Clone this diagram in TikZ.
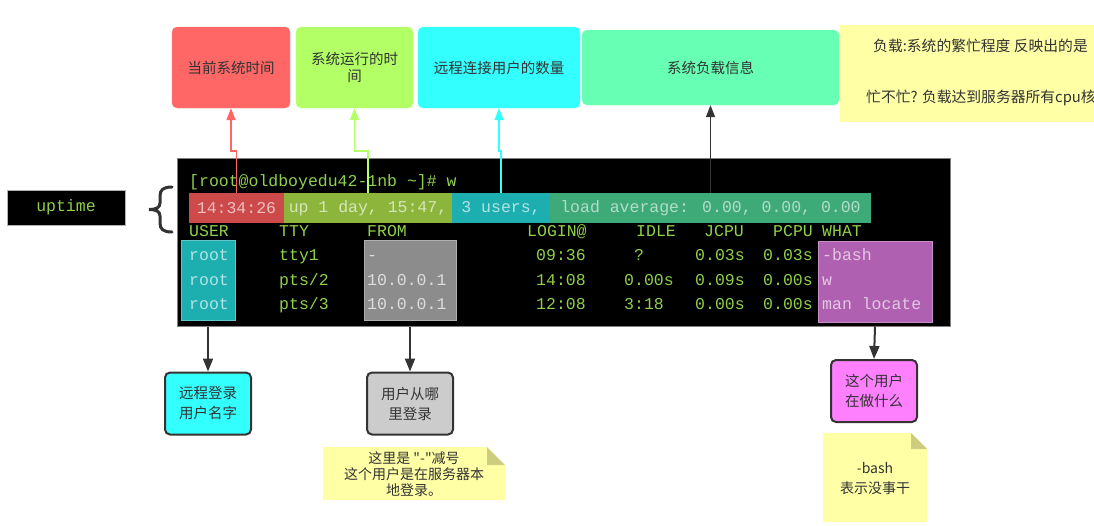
\documentclass[tikz,border=0pt]{standalone}
\usepackage{fontspec}
\setmainfont{Noto Sans CJK SC}[Ligatures=TeXOff]
\newfontfamily\termfont{Liberation Mono}
\usetikzlibrary{arrows.meta,calc}
\definecolor{tbred}{HTML}{FF6666}
\definecolor{tbgreen}{HTML}{B3FF66}
\definecolor{tbcyan}{HTML}{33FFFF}
\definecolor{tbmint}{HTML}{66FFB3}
\definecolor{noteyel}{HTML}{FFFFA6}
\definecolor{notefold}{HTML}{CDCD80}
\definecolor{hlred}{HTML}{CC4A4A}
\definecolor{hlgreen}{HTML}{8DB53C}
\definecolor{hlcyan}{HTML}{1DAFB0}
\definecolor{hlload}{HTML}{3EAA78}
\definecolor{termgreen}{HTML}{8ED04A}
\definecolor{darkline}{HTML}{333333}
\definecolor{boxpurple}{HTML}{FF80FF}
\definecolor{whatpurple}{HTML}{B060B0}
\definecolor{fromgray}{HTML}{8C8C8C}
\begin{document}
\begin{tikzpicture}[x=1pt,y=-1pt,
  topbox/.style={rounded corners=5pt,inner sep=2pt,align=center,text=darkline,
    font=\fontsize{14.5}{17}\selectfont},
  botbox/.style={rounded corners=5pt,draw=darkline,line width=2pt,align=center,
    minimum width=86pt,minimum height=62pt,inner sep=2pt,text=darkline,
    font=\fontsize{14.5}{20}\selectfont},
  hl/.style={inner sep=0pt,minimum height=30pt,font=\termfont\fontsize{16.5}{18}\selectfont},
  tt/.style={anchor=base west,inner sep=0pt,text=termgreen,font=\termfont\fontsize{16.5}{18}\selectfont},
  notetext/.style={align=center,text=darkline,inner sep=0pt,font=\fontsize{14}{16}\selectfont},
  uparrow/.style={line width=1.6pt,-{Triangle[length=12pt,width=9pt]}},
  downarrow/.style={line width=2pt,draw=darkline,-{Triangle[length=13pt,width=10pt]}},
]
\useasboundingbox (0,0) rectangle (1094,525);
\fill[white] (0,0) rectangle (1094,525);

% top boxes
\node[topbox,fill=tbred,draw=tbred!80!white,minimum width=118pt,minimum height=81pt] (tbred) at (231,67.5) {当前系统时间};
\node[topbox,fill=tbgreen,draw=tbgreen!80!white,minimum width=117pt,minimum height=81pt] (tbgreen) at (354.5,67.5) {系统运行的时\\间};
\node[topbox,fill=tbcyan,draw=tbcyan!80!white,minimum width=162pt,minimum height=81pt] (tbcyan) at (499,67.5) {远程连接用户的数量};
\node[topbox,fill=tbmint,draw=tbmint!80!white,minimum width=257pt,minimum height=75pt] (tbmint) at (710.5,67.5) {系统负载信息};

% top-right note (cut at the page edge)
\begin{scope}
\clip (0,0) rectangle (1094,525);
\fill[noteyel] (840,25) rectangle (1100,122);
\node[notetext,anchor=west,font=\fontsize{14.8}{16}\selectfont] (loadnote1) at (873,46) {负载:系统的繁忙程度 反映出的是};
\node[notetext,anchor=west,font=\fontsize{14.8}{16}\selectfont] (loadnote2) at (866,98) {忙不忙? 负载达到服务器所有cpu核};
\end{scope}

% terminal
\node[fill=black,draw=gray,line width=1pt,minimum width=773pt,minimum height=168pt,inner sep=0pt] (term) at (563.5,242) {};

% highlight row
\node[hl,fill=hlred,minimum width=95pt,text=hlred!35!white] (hlred) at (236.5,208) {14:34:26};
\node[hl,fill=hlgreen,minimum width=168pt,text=hlgreen!35!white] (hlgreen) at (368,208) {up 1 day, 15:47,};
\node[hl,fill=hlcyan,minimum width=98pt,text=hlcyan!35!white] (hlcyan) at (501,208) {3 users,};
\node[hl,fill=hlload,minimum width=321pt,text=hlload!40!white] (hlload) at (710.5,208) {load average: 0.00, 0.00, 0.00};

% column boxes
\node[fill=hlcyan,draw=hlcyan!70!white,minimum width=54pt,minimum height=80pt,inner sep=0pt] (userbox) at (208,280) {};
\node[fill=fromgray,draw=fromgray!70!white,minimum width=92pt,minimum height=80pt,inner sep=0pt] (frombox) at (410,280) {};
\node[fill=whatpurple,draw=whatpurple!70!white,minimum width=114pt,minimum height=81pt,inner sep=0pt] (whatbox) at (875,281.5) {};

% prompt
\node[tt] (prompt) at (189,186) {[root@oldboyedu42-1nb \textasciitilde]\# w};
% header
\node[tt] (hUSER) at (189,236) {USER};
\node[tt] (hTTY) at (279,236) {TTY};
\node[tt] (hFROM) at (367,236) {FROM};
\node[tt] (hLOGIN) at (527,236) {LOGIN@};
\node[tt] (hIDLE) at (636,236) {IDLE};
\node[tt] (hJCPU) at (704,236) {JCPU};
\node[tt] (hPCPU) at (773,236) {PCPU};
\node[tt] (hWHAT) at (822,236) {WHAT};
% row 1
\node[tt,text=hlcyan!35!white] (r1user) at (189,260) {root};
\node[tt] (r1tty) at (279,260) {tty1};
\node[tt,text=fromgray!30!white] (r1from) at (367,260) {-};
\node[tt] (r1login) at (536,260) {09:36};
\node[tt] (r1idle) at (634,260) {?};
\node[tt] (r1jcpu) at (695,260) {0.03s};
\node[tt] (r1pcpu) at (763,260) {0.03s};
\node[tt,text=whatpurple!35!white] (r1what) at (822,260) {-bash};
% row 2
\node[tt,text=hlcyan!35!white] (r2user) at (189,285) {root};
\node[tt] (r2tty) at (279,285) {pts/2};
\node[tt,text=fromgray!30!white] (r2from) at (367,285) {10.0.0.1};
\node[tt] (r2login) at (536,285) {14:08};
\node[tt] (r2idle) at (624,285) {0.00s};
\node[tt] (r2jcpu) at (695,285) {0.09s};
\node[tt] (r2pcpu) at (763,285) {0.00s};
\node[tt,text=whatpurple!35!white] (r2what) at (822,285) {w};
% row 3
\node[tt,text=hlcyan!35!white] (r3user) at (189,309) {root};
\node[tt] (r3tty) at (279,309) {pts/3};
\node[tt,text=fromgray!30!white] (r3from) at (367,309) {10.0.0.1};
\node[tt] (r3login) at (536,309) {12:08};
\node[tt] (r3idle) at (624,309) {3:18};
\node[tt] (r3jcpu) at (695,309) {0.00s};
\node[tt] (r3pcpu) at (763,309) {0.00s};
\node[tt,text=whatpurple!35!white] (r3what) at (822,309) {man locate};

% uptime box and brace
\node[fill=black,draw=gray!60,minimum width=118pt,minimum height=35pt,inner sep=0pt,
  text=termgreen,font=\termfont\fontsize{16.5}{18}\selectfont] (uptime) at (66,207.5) {uptime};
\draw[darkline,line width=3pt,line cap=round] (172,187) .. controls (163,187) and (160,190) .. (160,196) -- (160,203)
  .. controls (160,207) and (157,209.5) .. (149,209.5) .. controls (157,209.5) and (160,212) .. (160,216)
  -- (160,223) .. controls (160,229) and (163,232) .. (172,232);

% upward connectors
\draw[uparrow,draw=tbred] (hlred.north) -- ++(0,-42) -| (tbred.south);
\draw[uparrow,draw=tbgreen] (hlgreen.north) -- ++(0,-42) -| (tbgreen.south);
\draw[uparrow,draw=tbcyan] (hlcyan.north) -- ++(0,-42) -| (tbcyan.south);
\draw[uparrow,draw=darkline] (hlload.north) -- (tbmint.south);

% bottom boxes
\node[botbox,fill=tbcyan] (ubox) at (208,403.5) {远程登录\\用户名字};
\node[botbox,fill=gray!40] (gbox) at (410,403.5) {用户从哪\\里登录};
\node[botbox,fill=boxpurple] (pbox) at (874,391) {这个用户\\在做什么};

\draw[downarrow] (userbox.south |- term.south) -- (ubox.north);
\draw[downarrow] (frombox.south |- term.south) -- (gbox.north);
\draw[downarrow] (whatbox.south |- term.south) -- (pbox.north);

% notes
\fill[noteyel] (323,447) -- (487,447) -- (505,465) -- (505,500) -- (323,500) -- cycle;
\fill[notefold] (487,447) -- (505,465) -- (487,465) -- cycle;
\node[notetext] (note1) at (414,474) {这里是 "-"减号\\这个用户是在服务器本\\地登录。};

\fill[noteyel] (823,433) -- (911,433) -- (927,449) -- (927,522) -- (823,522) -- cycle;
\fill[notefold] (911,433) -- (927,449) -- (911,449) -- cycle;
\node[notetext,font=\fontsize{14}{20}\selectfont] (note2) at (875,478) {-bash\\表示没事干};
\end{tikzpicture}
\end{document}
